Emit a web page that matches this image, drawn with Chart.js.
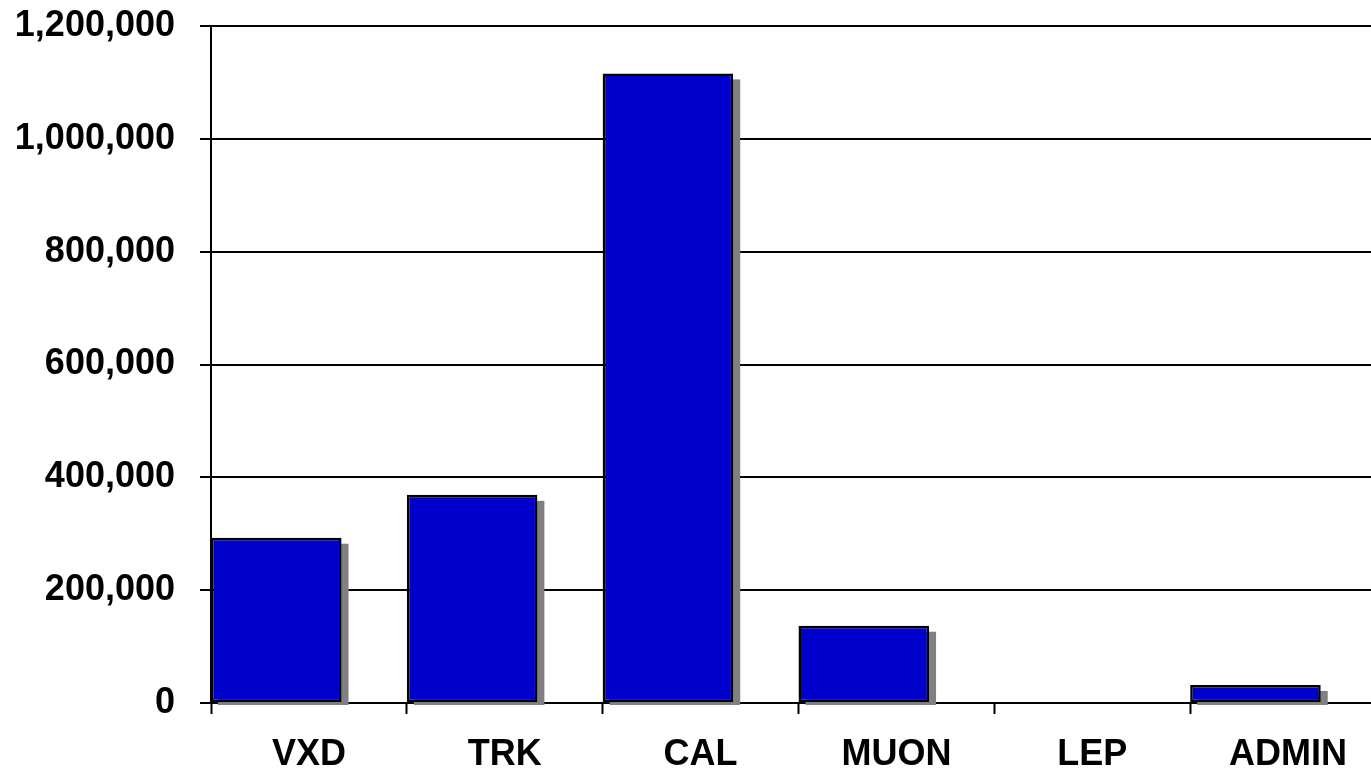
<!DOCTYPE html>
<html>
<head>
<meta charset="utf-8">
<script src="https://cdn.jsdelivr.net/npm/chart.js@4.4.0/dist/chart.umd.min.js"></script>
<style>
  html, body { margin: 0; padding: 0; background: #fff; overflow: hidden; }
  #wrap { width: 1390px; height: 772px; }
</style>
</head>
<body>
<div id="wrap"><canvas id="chart" width="1390" height="772"></canvas></div>
<script>
// data
const categories = ['VXD', 'TRK', 'CAL', 'MUON', 'LEP', 'ADMIN'];
const values = [293000, 369000, 1116000, 137000, 0, 32000];
const yTicks = [0, 200000, 400000, 600000, 800000, 1000000, 1200000];

// bars sit at the left of each category slot (2/3 of the slot wide)
const barShift = 1 / 3;
const labelFont = { family: "'Liberation Sans', Arial, sans-serif", size: 36, weight: 'bold' };

// grey drop shadow behind each bar, drawn from the bar elements the library placed
const shadowPlugin = {
    id: 'barShadow',
    beforeDatasetsDraw(chart) {
        const ctx = chart.ctx;
        const meta = chart.getDatasetMeta(0);
        ctx.save();
        ctx.fillStyle = '#808080';
        meta.data.forEach((bar, i) => {
            if (!values[i]) return;
            const p = bar.getProps(['x', 'y', 'base', 'width'], true);
            const left = p.x - p.width / 2 + 7;
            const top = p.y + 6;
            const bottom = p.base + 3;
            ctx.fillRect(left, top, p.width, bottom - top);
        });
        ctx.restore();
    }
};

new Chart(document.getElementById('chart'), {
    type: 'bar',
    data: {
        datasets: [{
            xAxisID: 'xBars',
            data: values.map((v, i) => ({ x: i + barShift, y: v })),
            backgroundColor: '#0000CC',
            borderColor: '#000',
            borderWidth: 2.5,
            borderSkipped: false,
            barPercentage: 2 / 3,
            categoryPercentage: 1
        }]
    },
    plugins: [shadowPlugin],
    options: {
        responsive: false,
        animation: false,
        layout: { padding: { left: 15, top: 26, right: 4, bottom: 0 } },
        plugins: { legend: { display: false }, tooltip: { enabled: false } },
        scales: {
            // hidden axis the bars are placed on, one unit per category
            xBars: {
                type: 'linear',
                position: 'bottom',
                display: false,
                offset: false,
                min: 0,
                max: categories.length,
                ticks: { stepSize: 1 }
            },
            x: {
                type: 'linear',
                position: 'bottom',
                offset: false,
                min: 0,
                max: categories.length,
                afterBuildTicks(scale) {
                    // tick marks at slot edges, labels at slot centres
                    const t = [];
                    for (let i = 0; i <= categories.length; i++) {
                        t.push({ value: i });
                        if (i < categories.length) t.push({ value: i + 0.5 });
                    }
                    scale.ticks = t;
                },
                afterFit(scale) {
                    scale.height = 69;
                    scale.paddingLeft = 0;
                    scale.paddingRight = 0;
                },
                ticks: {
                    autoSkip: false,
                    maxRotation: 0,
                    padding: 19,
                    color: '#000',
                    font: labelFont,
                    callback: (v) => Number.isInteger(v) ? '' : categories[Math.floor(v)]
                },
                grid: {
                    offset: false,
                    drawOnChartArea: false,
                    tickLength: 11,
                    tickWidth: 2,
                    tickColor: (c) => (c.tick && Number.isInteger(c.tick.value)) ? '#000' : 'rgba(0,0,0,0)'
                },
                border: { display: true, color: '#000', width: 2 }
            },
            y: {
                min: 0,
                max: 1200000,
                afterBuildTicks(scale) {
                    scale.ticks = yTicks.map(v => ({ value: v }));
                },
                afterFit(scale) {
                    scale.width = 196;
                    scale.paddingTop = 0;
                    scale.paddingBottom = 0;
                },
                ticks: {
                    padding: 25,
                    color: '#000',
                    font: labelFont,
                    callback: (v) => v.toLocaleString('en-US')
                },
                grid: { color: '#000', lineWidth: 2, tickLength: 11 },
                border: { display: true, color: '#000', width: 2 }
            }
        }
    }
});
</script>
</body>
</html>
